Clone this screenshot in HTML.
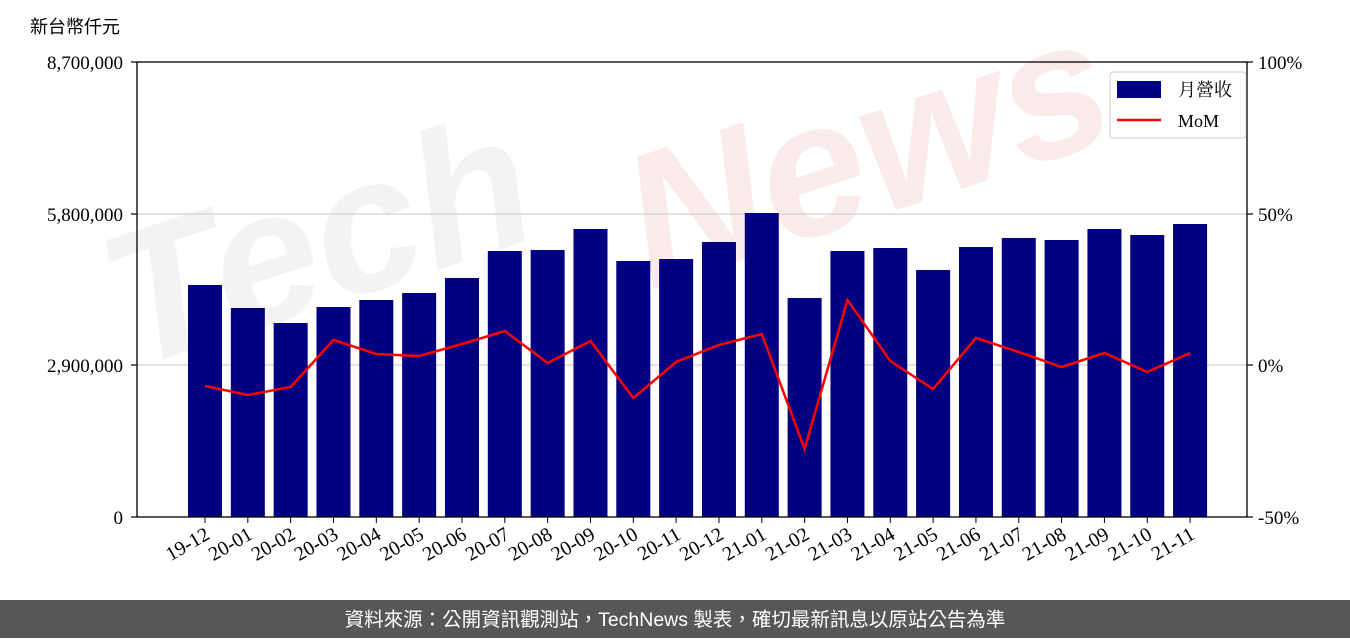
<!DOCTYPE html>
<html><head><meta charset="utf-8"><style>
body{margin:0;width:1350px;height:638px;background:#fff;overflow:hidden;font-family:"Liberation Serif","Noto Serif CJK SC",serif}
</style></head><body>
<svg width="1350" height="638" xmlns="http://www.w3.org/2000/svg">
<text x="130" y="370" transform="rotate(-18 130 370)" font-family="Liberation Sans,sans-serif" font-size="190" font-weight="bold" font-style="italic" fill="#ececec" opacity="0.6">Tech</text>
<text x="650" y="290" transform="rotate(-18 650 290)" font-family="Liberation Sans,sans-serif" font-size="190" font-weight="bold" font-style="italic" fill="#f9e3e3" opacity="0.7">News</text>
<g stroke="#d0d0d0" stroke-width="1.2"><line x1="137" y1="214" x2="1247" y2="214"/><line x1="137" y1="365" x2="1247" y2="365"/></g>
<g fill="#000080" id="bars"></g>
<polyline id="mom" fill="none" stroke="#ff0000" stroke-width="2.5"/>
<rect x="137" y="62" width="1110" height="455" fill="none" stroke="#000" stroke-width="1.3"/>
<g font-size="19" fill="#000" text-anchor="end">
<text x="123" y="69">8,700,000</text><text x="123" y="221">5,800,000</text><text x="123" y="372">2,900,000</text><text x="123" y="524">0</text></g>
<g stroke="#000" stroke-width="1.2"><line x1="131" y1="62" x2="137" y2="62"/><line x1="131" y1="214" x2="137" y2="214"/><line x1="131" y1="365" x2="137" y2="365"/><line x1="131" y1="517" x2="137" y2="517"/>
<line x1="1247" y1="62" x2="1253" y2="62"/><line x1="1247" y1="214" x2="1253" y2="214"/><line x1="1247" y1="365" x2="1253" y2="365"/><line x1="1247" y1="517" x2="1253" y2="517"/></g>
<g font-size="19"><text x="1258" y="69">100%</text><text x="1258" y="221">50%</text><text x="1258" y="372">0%</text><text x="1258" y="524">-50%</text></g>
<text x="30" y="33" font-family="Liberation Sans,Noto Sans CJK TC,sans-serif" font-size="18">新台幣仟元</text>
<g id="xl" font-size="20"></g>
<rect x="1110" y="72" width="136" height="66" fill="#fff" stroke="#ccc" rx="3"/>
<rect x="1117" y="81" width="44" height="17" fill="#000080"/>
<text x="1178" y="96" font-family="Noto Serif CJK TC,serif" font-size="18">月營收</text>
<line x1="1117" y1="120" x2="1161" y2="120" stroke="#f00" stroke-width="2.5"/>
<text x="1178" y="127" font-size="18">MoM</text>
<rect x="0" y="600" width="1350" height="38" fill="#575757"/>
<text x="675" y="626" text-anchor="middle" fill="#fff" font-family="Liberation Sans,Noto Sans CJK TC,sans-serif" font-size="19.5">資料來源：公開資訊觀測站，TechNews 製表，確切最新訊息以原站公告為準</text>
</svg>
<script>
var tops=[285,308,323,307,300,293,278,251,250,229,261,259,242,213,298,251,248,270,247,238,240,229,235,224];
var mom=[386,395,387,340,354,356,344,331,363,341,398,362,345,334,449,300,361,389,338,352,367,353,372,353];
var labs=["19-12","20-01","20-02","20-03","20-04","20-05","20-06","20-07","20-08","20-09","20-10","20-11","20-12","21-01","21-02","21-03","21-04","21-05","21-06","21-07","21-08","21-09","21-10","21-11"];
var ns="http://www.w3.org/2000/svg",b=document.getElementById('bars'),xl=document.getElementById('xl'),pts=[];
var svg=document.querySelector('svg');
for(var i=0;i<24;i++){var c=205+i*42.83;
var r=document.createElementNS(ns,'rect');r.setAttribute('x',c-17);r.setAttribute('y',tops[i]);r.setAttribute('width',34);r.setAttribute('height',517-tops[i]);b.appendChild(r);
pts.push(c+','+mom[i]);
var l=document.createElementNS(ns,'line');l.setAttribute('x1',c);l.setAttribute('x2',c);l.setAttribute('y1',517);l.setAttribute('y2',523);l.setAttribute('stroke','#000');svg.appendChild(l);
var t=document.createElementNS(ns,'text');var tx=c+6,ty=538;t.setAttribute('x',tx);t.setAttribute('y',ty);t.setAttribute('text-anchor','end');t.setAttribute('transform','rotate(-30 '+tx+' '+ty+')');t.textContent=labs[i];xl.appendChild(t);}
document.getElementById('mom').setAttribute('points',pts.join(' '));
</script>
</body></html>
